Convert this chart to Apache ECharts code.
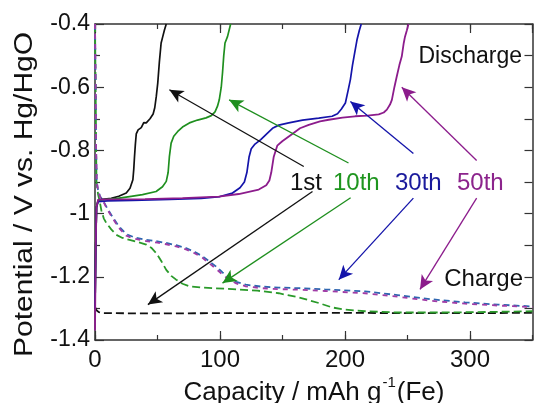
<!DOCTYPE html>
<html>
<head>
<meta charset="utf-8">
<script src="https://cdn.jsdelivr.net/npm/echarts@6/dist/echarts.min.js"></script>
<style>html,body{margin:0;padding:0;background:#fff;}#c{width:534px;height:403px;}</style>
</head>
<body>
<div id="c"></div>
<script>
// ---- data: [capacity (mAh g-1), potential (V vs Hg/HgO)] ----
const discharge1st = [[0,-1.3],[0.6,-1.1],[1.2,-0.98],[2.5,-0.958],[6,-0.955],[13,-0.952],[19,-0.945],[25,-0.935],[28,-0.92],[30.3,-0.893],[31,-0.86],[31.6,-0.82],[32.3,-0.78],[33,-0.748],[34.5,-0.735],[37,-0.728],[38.5,-0.722],[39,-0.712],[39.6,-0.718],[41,-0.713],[44,-0.7],[46.5,-0.685],[47.8,-0.665],[49,-0.63],[50.2,-0.587],[51.5,-0.52],[52.9,-0.46],[54.2,-0.44],[55.5,-0.42],[57,-0.4]];
const discharge10th = [[0,-1.3],[0.6,-1.1],[1.2,-0.98],[2.5,-0.958],[8,-0.956],[18,-0.952],[27.6,-0.946],[38,-0.94],[48.9,-0.93],[54,-0.915],[57,-0.898],[58.5,-0.87],[59.5,-0.82],[60.9,-0.777],[63,-0.755],[66.2,-0.74],[70,-0.726],[75.5,-0.713],[82,-0.704],[88.8,-0.697],[93,-0.69],[96,-0.678],[98,-0.66],[99.4,-0.64],[101,-0.6],[102,-0.555],[103,-0.5],[104,-0.46],[106,-0.44],[108.5,-0.4]];
const discharge30th = [[0,-1.3],[0.6,-1.1],[1.2,-0.98],[2.5,-0.962],[10,-0.96],[30,-0.958],[60,-0.955],[85,-0.952],[100,-0.946],[110,-0.935],[116,-0.918],[119.5,-0.9],[121.5,-0.87],[123.3,-0.82],[125,-0.795],[128,-0.78],[132.6,-0.766],[138,-0.745],[142,-0.73],[147,-0.72],[155,-0.713],[166,-0.704],[179,-0.698],[189.7,-0.692],[194,-0.684],[197,-0.67],[200.3,-0.65],[202.5,-0.61],[204.3,-0.576],[206,-0.53],[207.7,-0.492],[209.6,-0.45],[211.5,-0.42],[213,-0.4]];
const discharge50th = [[0,-1.37],[0.6,-1.1],[1.2,-0.98],[2.5,-0.956],[10,-0.955],[40,-0.954],[70,-0.951],[99,-0.946],[115,-0.938],[131,-0.924],[137,-0.91],[139.5,-0.895],[141,-0.87],[143,-0.82],[145.8,-0.785],[149.8,-0.771],[157.8,-0.748],[164,-0.73],[171,-0.719],[180,-0.708],[187,-0.703],[198,-0.696],[208,-0.692],[218,-0.69],[227,-0.686],[231,-0.68],[233.5,-0.671],[236,-0.655],[237.5,-0.64],[239.5,-0.6],[241.4,-0.566],[243.5,-0.53],[245.4,-0.503],[247,-0.46],[248,-0.44],[249.5,-0.42],[250.8,-0.4]];

const charge1st = [[0,-1.295],[1,-1.305],[3,-1.312],[6.4,-1.315],[50,-1.316],[100,-1.315],[150,-1.315],[200,-1.314],[250,-1.315],[300,-1.315],[350,-1.314]];
const charge10th = [[0,-0.4],[0.5,-0.6],[0.9,-0.8],[1.2,-0.9],[2.5,-0.94],[3.7,-0.96],[5.1,-0.99],[7,-1.015],[9.1,-1.03],[13,-1.05],[17,-1.067],[22,-1.077],[27.6,-1.083],[35,-1.091],[41,-1.098],[45,-1.108],[49,-1.125],[53,-1.15],[57,-1.178],[61,-1.197],[64.9,-1.209],[70,-1.222],[75.5,-1.23],[85,-1.234],[94,-1.236],[110,-1.239],[130,-1.244],[147,-1.252],[163,-1.265],[179,-1.283],[189.7,-1.297],[200,-1.304],[216,-1.309],[242,-1.313],[280,-1.313],[320,-1.311],[350,-1.309]];
const charge30th = [[0,-0.4],[0.5,-0.6],[0.9,-0.8],[1.4,-0.9],[2.4,-0.924],[4,-0.945],[6.4,-0.958],[10,-0.985],[14.3,-1.012],[19,-1.04],[25,-1.065],[32,-1.076],[41,-1.083],[50,-1.088],[57,-1.093],[65,-1.1],[72.8,-1.109],[80,-1.122],[86,-1.135],[91,-1.15],[96.7,-1.167],[102,-1.186],[107,-1.202],[113,-1.216],[120.6,-1.225],[133,-1.231],[147,-1.234],[163,-1.236],[184,-1.24],[216,-1.246],[242,-1.258],[269,-1.271],[296,-1.281],[322.5,-1.288],[350,-1.294]];
const charge50th = [[0,-0.4],[0.5,-0.6],[0.9,-0.8],[1.4,-0.9],[2.4,-0.926],[4,-0.947],[6.4,-0.96],[10,-0.988],[14.3,-1.016],[19,-1.045],[25,-1.07],[32,-1.08],[41,-1.087],[50,-1.092],[57,-1.097],[65,-1.104],[72.8,-1.113],[80,-1.126],[86,-1.14],[91,-1.156],[96.7,-1.174],[102,-1.193],[107,-1.208],[113,-1.221],[120.6,-1.23],[133,-1.236],[147,-1.239],[163,-1.241],[184,-1.245],[216,-1.252],[242,-1.263],[269,-1.276],[296,-1.285],[322.5,-1.291],[350,-1.296]];

// annotation arrows: [from, to] in data coordinates
const arrows1st  = [[[167,-0.851],[59.5,-0.608]], [[174,-0.93],[42.3,-1.288]]];
const arrows10th = [[[202.8,-0.84],[107.3,-0.64]], [[204.5,-0.95],[102,-1.22]]];
const arrows30th = [[[254.7,-0.81],[204.3,-0.645]], [[254.7,-0.951],[195,-1.209]]];
const arrows50th = [[[305.3,-0.832],[245.4,-0.6]], [[305.3,-0.951],[260,-1.24]]];

const xTicks = {min: 0, max: 350, interval: 100};
const yTicks = {min: -1.4, max: -0.4, interval: 0.2};

const FONT = "'Liberation Sans', Arial, Helvetica, sans-serif";
const C = {k:'#111111', g:'#1f8f1f', b:'#1414aa', p:'#8c1c8c', gd:'#2a9a2a', bd:'#2e66b0', pd:'#a03ca6'};
const GRID = {left: 95, right: 1.5, top: 24, bottom: 63};
const AX = '#333';

function arrowLines(list, color){
  return {
    silent: true, symbol: ['none','arrow'], symbolSize: [10, 14],
    label: {show: false},
    lineStyle: {color: color, width: 1.3, type: 'solid'},
    emphasis: {disabled: true},
    data: list.map(a => [{coord: a[0]}, {coord: a[1]}])
  };
}
function line(name, data, color, dashed, width, arrows){
  const s = {
    name, type: 'line', data, showSymbol: false, symbol: 'none', smooth: false,
    xAxisIndex: 0, yAxisIndex: 0, animation: false,
    lineStyle: {color, width: width, type: dashed ? dashed : 'solid'},
    emphasis: {disabled: true}
  };
  if (arrows) s.markLine = arrowLines(arrows, color);
  return s;
}

const chart = echarts.init(document.getElementById('c'), null, {renderer: 'canvas'});
chart.setOption({
  animation: false,
  backgroundColor: '#fff',
  grid: [Object.assign({}, GRID), Object.assign({}, GRID)],
  xAxis: [
    {gridIndex: 0, type: 'value', position: 'bottom', min: xTicks.min, max: xTicks.max, interval: xTicks.interval,
     axisLine: {show: true, onZero: false, lineStyle: {color: AX, width: 1.5}},
     axisTick: {show: true, inside: true, length: 9, lineStyle: {color: AX, width: 1.2}},
     axisLabel: {show: true, margin: 8, fontSize: 24, color: '#111', fontFamily: FONT, showMaxLabel: false},
     splitLine: {show: false}},
    {gridIndex: 0, type: 'value', position: 'top', min: xTicks.min, max: xTicks.max, interval: xTicks.interval,
     axisLine: {show: true, onZero: false, lineStyle: {color: AX, width: 1.5}},
     axisTick: {show: true, inside: true, length: 9, lineStyle: {color: AX, width: 1.2}},
     axisLabel: {show: false}, splitLine: {show: false}},
    {gridIndex: 1, type: 'value', position: 'bottom', min: xTicks.min, max: xTicks.max, interval: xTicks.interval / 2,
     axisLine: {show: false, onZero: false},
     axisTick: {show: true, inside: true, length: 5, lineStyle: {color: AX, width: 1.2}},
     axisLabel: {show: false}, splitLine: {show: false}},
    {gridIndex: 1, type: 'value', position: 'top', min: xTicks.min, max: xTicks.max, interval: xTicks.interval / 2,
     axisLine: {show: false, onZero: false},
     axisTick: {show: true, inside: true, length: 5, lineStyle: {color: AX, width: 1.2}},
     axisLabel: {show: false}, splitLine: {show: false}}
  ],
  yAxis: [
    {gridIndex: 0, type: 'value', position: 'left', min: yTicks.min, max: yTicks.max, interval: yTicks.interval,
     axisLine: {show: true, onZero: false, lineStyle: {color: AX, width: 1.5}},
     axisTick: {show: true, inside: true, length: 9, lineStyle: {color: AX, width: 1.2}},
     minorTick: {show: true, splitNumber: 2, length: 5, lineStyle: {color: AX, width: 1.2}},
     axisLabel: {show: true, margin: 5, fontSize: 23, color: '#111', fontFamily: FONT},
     splitLine: {show: false}, minorSplitLine: {show: false}},
    {gridIndex: 0, type: 'value', position: 'right', min: yTicks.min, max: yTicks.max, interval: yTicks.interval,
     axisLine: {show: true, onZero: false, lineStyle: {color: AX, width: 1.5}},
     axisTick: {show: true, inside: true, length: 8, lineStyle: {color: AX, width: 1.2}},
     minorTick: {show: true, splitNumber: 2, length: 8, lineStyle: {color: AX, width: 1.2}},
     axisLabel: {show: false}, splitLine: {show: false}},
    {gridIndex: 1, type: 'value', show: false, min: yTicks.min, max: yTicks.max},
    {gridIndex: 1, type: 'value', show: false, position: 'right', min: yTicks.min, max: yTicks.max}
  ],
  series: [
    line('1st charge', charge1st, C.k, [8, 4], 1.8),
    line('10th charge', charge10th, C.gd, [8, 4], 1.8),
    line('30th charge', charge30th, C.bd, [6, 4], 1.8),
    line('50th charge', charge50th, C.pd, [5, 5], 1.8),
    line('1st discharge', discharge1st, C.k, null, 1.7, arrows1st),
    line('10th discharge', discharge10th, C.g, null, 1.7, arrows10th),
    line('30th discharge', discharge30th, C.b, null, 1.7, arrows30th),
    line('50th discharge', discharge50th, C.p, null, 1.8, arrows50th)
  ],
  graphic: [
    {type: 'text', x: 314, y: 406,
     style: {text: '{a|Capacity / mAh g}{s|-1}{a|(Fe)}', fill: '#111',
             align: 'center', verticalAlign: 'bottom', textAlign: 'center', textVerticalAlign: 'bottom',
             rich: {
               a: {fontSize: 26, fontFamily: FONT, fill: '#111', verticalAlign: 'bottom', lineHeight: 28},
               s: {fontSize: 15, fontFamily: FONT, fill: '#111', verticalAlign: 'bottom', lineHeight: 15, padding: [0, 1, 16, 1]}
             }}},
    {type: 'text', x: 25, y: 194.5, rotation: Math.PI / 2, scaleX: 1.2, scaleY: 1,
     style: {text: 'Potential / V vs. Hg/HgO', font: '25px ' + FONT, fill: '#111',
             align: 'center', verticalAlign: 'middle', textAlign: 'center', textVerticalAlign: 'middle'}},
    {type: 'text', x: 522, y: 57,
     style: {text: 'Discharge', font: '23px ' + FONT, fill: '#111', align: 'right', verticalAlign: 'middle', textAlign: 'right', textVerticalAlign: 'middle'}},
    {type: 'text', x: 523, y: 279,
     style: {text: 'Charge', font: '24px ' + FONT, fill: '#111', align: 'right', verticalAlign: 'middle', textAlign: 'right', textVerticalAlign: 'middle'}},
    {type: 'text', x: 290, y: 183.5,
     style: {text: '1st', font: '24px ' + FONT, fill: '#111', align: 'left', verticalAlign: 'middle', textAlign: 'left', textVerticalAlign: 'middle'}},
    {type: 'text', x: 333, y: 183.5,
     style: {text: '10th', font: '24px ' + FONT, fill: '#1f951f', align: 'left', verticalAlign: 'middle', textAlign: 'left', textVerticalAlign: 'middle'}},
    {type: 'text', x: 395, y: 183.5,
     style: {text: '30th', font: '24px ' + FONT, fill: '#1a1a9c', align: 'left', verticalAlign: 'middle', textAlign: 'left', textVerticalAlign: 'middle'}},
    {type: 'text', x: 457, y: 183.5,
     style: {text: '50th', font: '24px ' + FONT, fill: '#8c248c', align: 'left', verticalAlign: 'middle', textAlign: 'left', textVerticalAlign: 'middle'}}
  ]
});
</script>
</body>
</html>
